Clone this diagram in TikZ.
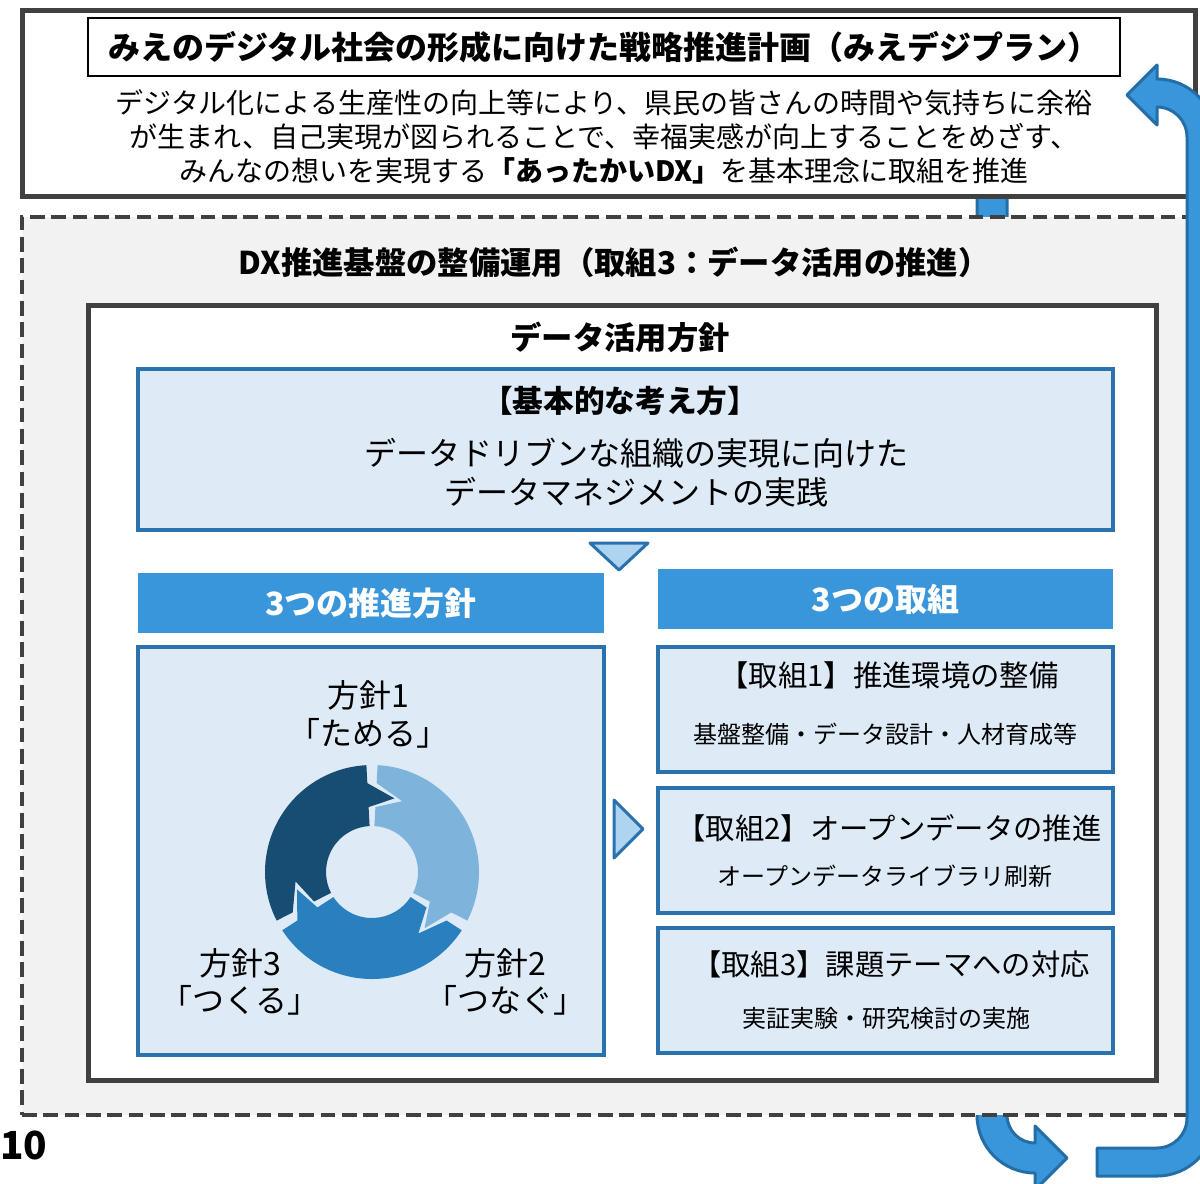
\documentclass[tikz,border=0pt]{standalone}
\usepackage{fontspec}
\setmainfont{Noto Sans CJK JP}
\usetikzlibrary{positioning}

\definecolor{framegray}{HTML}{404040}
\definecolor{basegray}{HTML}{F2F2F2}
\definecolor{paleblue}{HTML}{DEEBF7}
\definecolor{lineblue}{HTML}{2A72AE}
\definecolor{headblue}{HTML}{3A96DA}
\definecolor{tipblue}{HTML}{AED4F0}
\definecolor{loopblue}{HTML}{3A96DA}
\definecolor{loopedge}{HTML}{236EA6}
\definecolor{cycdark}{HTML}{174D72}
\definecolor{cycmid}{HTML}{2A80BF}
\definecolor{cyclight}{HTML}{7EB3DC}

\begin{document}
\begin{tikzpicture}[x=0.75pt,y=-0.75pt,
    size/.style 2 args={minimum width=#1*0.75pt,minimum height=#2*0.75pt},
    frame/.style={draw=framegray,line width=3.75pt,fill=white,inner sep=0pt},
    pale/.style={draw=lineblue,line width=3pt,fill=paleblue,inner sep=0pt},
    hdr/.style={fill=headblue,text=white,inner sep=0pt,font=\fontsize{24}{28}\selectfont\bfseries},
    tri/.style={draw=lineblue,fill=tipblue,line width=2.25pt,line join=round},
    loop/.style={fill=loopblue,draw=loopedge,line width=2.25pt,line join=round},
    big/.style={inner sep=0pt,font=\fontsize{24}{29}\selectfont},
    sub/.style={inner sep=0pt,font=\fontsize{18}{22}\selectfont},
    item/.style={inner sep=0pt,font=\fontsize{22}{26}\selectfont}]
  \useasboundingbox (0,0) rectangle (1200,1183);
  \clip (0,0) rectangle (1200,1183);

  % band running down behind the boxes
  \filldraw[loop] (977,150) -- (977,1115) arc[start angle=180,end angle=90,radius=58]
    -- (1035,1190) -- (1067,1158) -- (1035,1126) -- (1035,1143)
    arc[start angle=90,end angle=180,radius=28] -- (1007,150) -- cycle;

  % plan
  \node[frame,size={1173}{186}] (top) at (608.5,103) {};
  \node[draw=black,line width=1.9pt,fill=white,inner sep=0pt,size={1032}{58},
    font=\fontsize{24}{28}\selectfont\bfseries] (plan) at (604,47)
    {みえのデジタル社会の形成に向けた戦略推進計画（みえデジプラン）};
  \node[inner sep=0pt,align=center,font=\fontsize{21}{25.5}\selectfont] (vision) at (604,137)
    {デジタル化による生産性の向上等により、県民の皆さんの時間や気持ちに余裕\\
     が生まれ、自己実現が図られることで、幸福実感が向上することをめざす、\\
     みんなの想いを実現する\textbf{「あったかいDX」}を基本理念に取組を推進};

  % DX base
  \node[draw=framegray,line width=3.6pt,dash pattern=on 11pt off 5pt,fill=basegray,
    size={1173}{898}] (base) at (608.5,666) {};
  \node[inner sep=0pt,font=\fontsize{23.5}{28}\selectfont\bfseries] (basetitle) at (614,262)
    {DX推進基盤の整備運用（取組3：データ活用の推進）};

  \node[frame,size={1068}{775}] (policy) at (622,692.5) {};
  \node[inner sep=0pt,font=\fontsize{23.5}{28}\selectfont\bfseries] (policytitle) at (620,337)
    {データ活用方針};

  \node[pale,size={975}{161}] (concept) at (625.5,449.5) {};
  \node[inner sep=0pt,font=\fontsize{23}{27}\selectfont\bfseries] (concepttitle) at (620,401)
    {【基本的な考え方】};
  \node[big] (concept1) at (636,453) {データドリブンな組織の実現に向けた};
  \node[big] (concept2) at (636,492) {データマネジメントの実践};

  \filldraw[tri] (590,543) -- (648,543) -- (619,570) -- cycle;

  \node[hdr,size={466}{60}] (pillars) at (371,603) {3つの推進方針};
  \node[hdr,size={455}{60}] (actions) at (885.5,599) {3つの取組};

  % three policies
  \node[pale,size={466}{408}] (cyclebox) at (371,851) {};
  \begin{scope}[shift={(372,872)}]
    \foreach \a/\col in {150/cycdark,270/cyclight,30/cycmid}{
      \fill[\col] (\a+3:107) arc[start angle=\a+3,end angle=\a+117,radius=107]
        -- (\a+117:89) -- (\a+137:77) -- (\a+117:65) -- (\a+117:46)
        arc[start angle=\a+117,end angle=\a+3,radius=46]
        -- (\a+3:65) -- (\a+23:77) -- (\a+3:89) -- cycle;
    }
  \end{scope}
  \node[big] (p1) at (368,695) {方針1};
  \node[big] (p1name) at (368,733) {「ためる」};
  \node[big] (p3) at (240,963) {方針3};
  \node[big] (p3name) at (240,1000) {「つくる」};
  \node[big] (p2) at (505,963) {方針2};
  \node[big] (p2name) at (505,1000) {「つなぐ」};

  \filldraw[tri] (614,800) -- (643,829) -- (614,858) -- cycle;

  % three actions
  \node[pale,size={455}{125}] (act1) at (885.5,709.5) {};
  \node[item] (act1title) at (889,675) {【取組1】推進環境の整備};
  \node[sub] (act1text) at (885,734) {基盤整備・データ設計・人材育成等};
  \node[pale,size={455}{125}] (act2) at (885.5,850.5) {};
  \node[item] (act2title) at (889,828) {【取組2】オープンデータの推進};
  \node[sub] (act2text) at (885,876) {オープンデータライブラリ刷新};
  \node[pale,size={455}{125}] (act3) at (885.5,990.5) {};
  \node[item] (act3title) at (891,964) {【取組3】課題テーマへの対応};
  \node[sub] (act3text) at (886,1018) {実証実験・研究検討の実施};

  \node[anchor=west,inner sep=0pt,font=\fontsize{29}{32}\selectfont\bfseries] (pageno) at (0,1145) {10};

  % band coming back up to the plan
  \filldraw[loop] (1097,1148) -- (1157,1148) arc[start angle=90,end angle=0,radius=30]
    -- (1187,137) arc[start angle=0,end angle=-90,radius=30]
    -- (1157,125) -- (1127,95) -- (1157,65) -- (1157,79)
    arc[start angle=-90,end angle=0,radius=58] -- (1215,1118)
    arc[start angle=0,end angle=90,radius=58] -- (1097,1176) -- cycle;
\end{tikzpicture}
\end{document}
